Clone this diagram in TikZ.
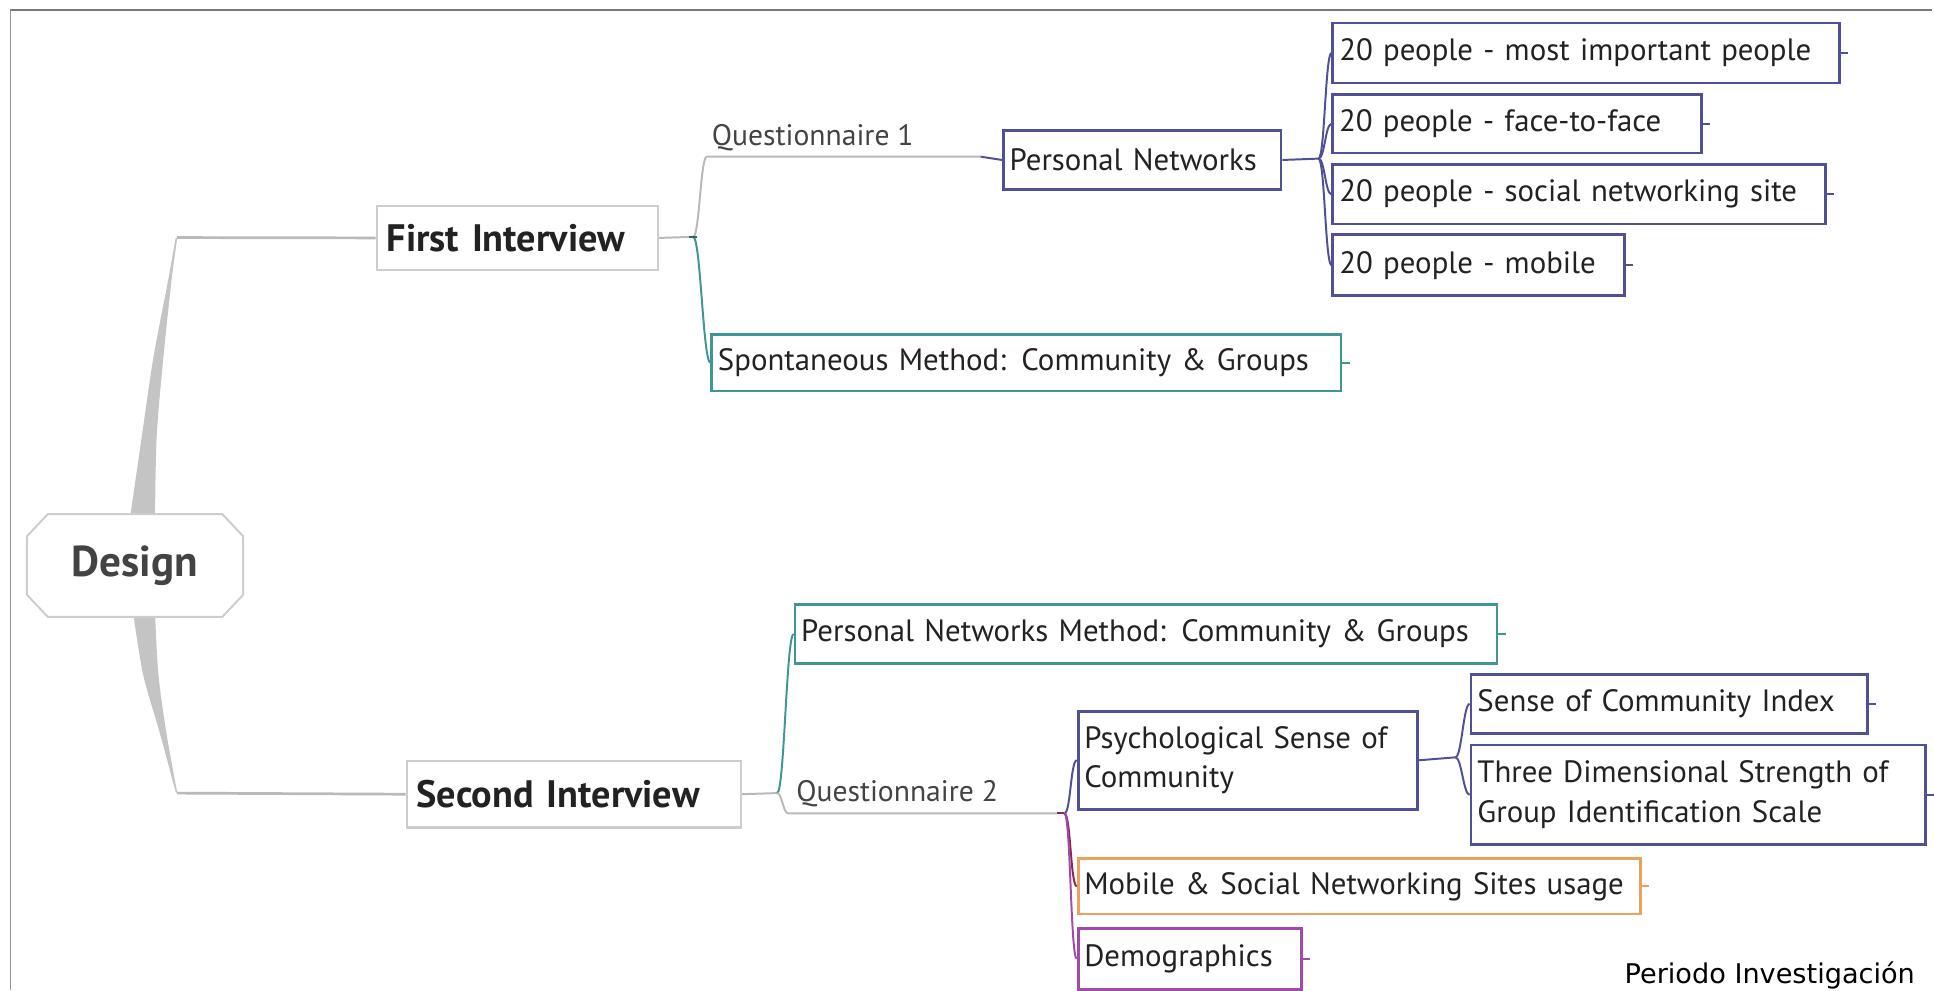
\documentclass[tikz,border=0pt]{standalone}
\usepackage{fontspec}
\setmainfont{PT Sans}
\newfontfamily\notefont{DejaVu Sans}
\usetikzlibrary{backgrounds}
\definecolor{indigoc}{RGB}{80,80,150}
\definecolor{tealc}{RGB}{62,150,150}
\definecolor{orangec}{RGB}{238,160,95}
\definecolor{purplec}{RGB}{160,75,170}
\definecolor{maroonc}{RGB}{140,40,80}
\definecolor{grayb}{RGB}{205,205,205}
\definecolor{wedgec}{RGB}{196,196,196}
\definecolor{linec}{RGB}{185,185,185}
\definecolor{txt}{RGB}{34,34,34}
\definecolor{framec}{RGB}{120,120,120}
\tikzset{
  box/.style={draw, line width=2.2pt, fill=white, inner xsep=5pt, inner ysep=0pt,
    anchor=north west, align=left, text=txt, font=\fontsize{25}{32}\selectfont},
  ibox/.style={box, draw=indigoc},
  tbox/.style={box, draw=tealc},
  obox/.style={box, draw=orangec},
  pbox/.style={box, draw=purplec},
  gbox/.style={draw=grayb, line width=1.8pt, fill=white, inner xsep=8pt, inner ysep=0pt,
    anchor=north west, align=left, text=txt, font=\bfseries\fontsize{31}{36}\selectfont},
  qlabel/.style={anchor=base west, inner sep=0pt, text=txt!85, font=\fontsize{24}{28}\selectfont},
  link/.style={line width=1.6pt},
  glink/.style={line width=2.2pt, draw=linec},
  tick/.style={line width=1.5pt},
}
\begin{document}
\begin{tikzpicture}[x=1pt,y=-1pt]
\useasboundingbox (0,0) rectangle (1568,803);
% frame
\draw[framec, line width=1.8pt] (8.5,8) -- (1566,8);
\draw[framec!80, line width=1.2pt] (8.5,8) -- (8.5,803);

% root
\node[minimum width=175pt, minimum height=83pt, inner sep=0pt, text=txt!85,
  font=\bfseries\fontsize{35}{40}\selectfont] (design) at (109.5,458.5) {Design};

% main topics
\node[gbox, minimum width=228pt, minimum height=52pt, text width=212pt] (fi) at (304.6,166) {First Interview};
\node[gbox, minimum width=271pt, minimum height=54pt, text width=255pt] (si) at (328.8,616) {Second Interview};

% first interview branch
\node[qlabel] (q1) at (577,117.6) {Questionnaire 1};
\node[ibox, minimum width=225pt, minimum height=48pt, text width=215pt] (pn) at (812.5,104.6) {Personal Networks};
\node[ibox, minimum width=410.5pt, minimum height=48.6pt, text width=400pt] (c1) at (1079.5,17.6) {20 people - most important people};
\node[ibox, minimum width=299pt, minimum height=47.3pt, text width=289pt] (c2) at (1079.5,75.7) {20 people - face-to-face};
\node[ibox, minimum width=399.5pt, minimum height=48pt, text width=389pt] (c3) at (1079.5,132.4) {20 people - social networking site};
\node[ibox, minimum width=236.5pt, minimum height=49.7pt, text width=226pt] (c4) at (1079.5,189) {20 people - mobile};
\node[tbox, minimum width=510pt, minimum height=46pt, text width=500pt] (sp) at (576,270) {Spontaneous Method: Community \& Groups};

% second interview branch
\node[tbox, minimum width=569pt, minimum height=47.6pt, text width=559pt] (pnm) at (643.5,489) {Personal Networks Method: Community \& Groups};
\node[qlabel] (q2) at (645.4,650) {Questionnaire 2};
\node[ibox, minimum width=275pt, minimum height=79.4pt, text width=265pt] (psy) at (873,575.6) {Psychological Sense of\\Community};
\node[ibox, minimum width=321.5pt, minimum height=47.7pt, text width=311pt] (sci) at (1191.5,545.7) {Sense of Community Index};
\node[ibox, minimum width=368.5pt, minimum height=80.6pt, text width=358pt] (tds) at (1191.5,603) {Three Dimensional Strength of\\Group Identification Scale};
\node[obox, minimum width=456pt, minimum height=45pt, text width=446pt] (mob) at (873,695) {Mobile \& Social Networking Sites usage};
\node[pbox, minimum width=181pt, minimum height=49.5pt, text width=171pt] (dem) at (873,751.5) {Demographics};

\node[anchor=base west, inner sep=0pt, text=black, font=\notefont\fontsize{22}{26}\selectfont] (note) at (1317,797) {Periodo Investigación};

% coordinates
\coordinate (c1up) at (143.6,192.6);
\coordinate (c1dn) at (143.6,643);
\coordinate (fif) at (562,192);
\coordinate (q1l) at (573,127);
\coordinate (q1r) at (795,127);
\coordinate (pnf) at (1069,128.6);
\coordinate (sif) at (630,643);
\coordinate (q2l) at (639,659.5);
\coordinate (q2r) at (857,659.5);
\coordinate (q2f) at (863,659.5);
\coordinate (psf) at (1180,614);

% background: wedges and root octagon
\begin{scope}[on background layer]
\fill[wedgec] plot[smooth] coordinates {(105.4,420) (114.9,354.3) (124.3,290.3) (136.5,226.2) (142.4,193)}
  -- (c1up) -- (144.6,193.5)
  -- plot[smooth] coordinates {(143.6,194) (139.2,226.2) (132.4,290.3) (127,354.3) (125.7,420)} -- cycle;
\fill[wedgec] plot[smooth] coordinates {(108,497) (116,546.7) (129.7,594.8) (142.4,642)}
  -- (c1dn) -- (144.6,642.5)
  -- plot[smooth] coordinates {(143.6,642) (135,594.8) (128.4,546.7) (125.7,497)} -- cycle;
\draw[draw=grayb, line width=1.6pt, fill=white]
  ([xshift=17pt]design.north west) -- ([xshift=-17pt]design.north east)
  -- ([yshift=-18pt]design.north east) -- ([yshift=18pt]design.south east)
  -- ([xshift=-17pt]design.south east) -- ([xshift=17pt]design.south west)
  -- ([yshift=18pt]design.south west) -- ([yshift=-18pt]design.north west) -- cycle;
\end{scope}

% root connectors
\draw[glink] (c1up) -- (fi.west);
\draw[glink] (c1dn) -- (si.west);

% first interview connectors
\draw[link, draw=linec] (fi.east) -- (fif);
\draw[link, draw=linec] (fif) .. controls +(5,0) and +(-5,0) .. (q1l) -- (q1r);
\draw[link, draw=indigoc] (q1r) -- (pn.west);
\draw[link, draw=tealc] (fif) .. controls +(6,0) and +(-6,0) .. (sp.west);
\draw[link, draw=tealc!70!black] ([xshift=-3pt]fif) -- ([xshift=3pt]fif);

\draw[link, draw=indigoc] (pn.east) -- (pnf);
\foreach \c in {c1,c2,c3,c4}{
  \draw[link, draw=indigoc] (pnf) .. controls +(5,0) and +(-5,0) .. (\c.west);
}

% second interview connectors
\draw[link, draw=linec] (si.east) -- (sif);
\draw[link, draw=tealc] (sif) .. controls +(6,0) and +(-6,0) .. (pnm.west);
\draw[link, draw=linec] (sif) .. controls +(4,0) and +(-4,0) .. (q2l) -- (q2r);
\draw[link, draw=maroonc] (q2r) -- (q2f);
\draw[link, draw=indigoc] (q2f) .. controls +(5,0) and +(-5,0) .. (psy.west);
\draw[link, draw=maroonc] (q2f) .. controls +(5,0) and +(-5,0) .. (mob.west);
\draw[link, draw=purplec] (q2f) .. controls +(5,0) and +(-5,0) .. (dem.west);

\draw[link, draw=indigoc] (psy.east) -- (psf);
\draw[link, draw=indigoc] (psf) .. controls +(5,0) and +(-5,0) .. (sci.west);
\draw[link, draw=indigoc] (psf) .. controls +(5,0) and +(-5,0) .. (tds.west);

% end ticks
\foreach \c in {c1,c2,c3,c4,sci,tds}{
  \draw[tick, draw=indigoc] (\c.east) -- ++(6,0);
}
\draw[tick, draw=tealc] (sp.east) -- ++(6,0);
\draw[tick, draw=tealc] (pnm.east) -- ++(6,0);
\draw[tick, draw=orangec] (mob.east) -- ++(6,0);
\draw[tick, draw=purplec] (dem.east) -- ++(6,0);
\end{tikzpicture}
\end{document}
